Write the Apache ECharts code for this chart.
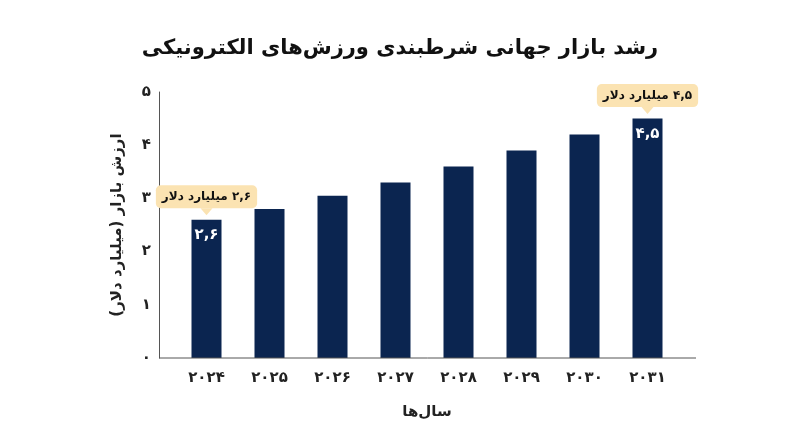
<!DOCTYPE html>
<html dir="rtl">
<head>
<meta charset="utf-8">
<script src="https://cdn.jsdelivr.net/npm/echarts@6/dist/echarts.min.js"></script>
<style>
  html, body { margin: 0; padding: 0; background: #ffffff; }
  #chart { width: 800px; height: 447px; }
</style>
</head>
<body>
<div id="chart"></div>
<script>
// data
var years = [2024, 2025, 2026, 2027, 2028, 2029, 2030, 2031];
var values = [2.6, 2.8, 3.05, 3.3, 3.6, 3.9, 4.2, 4.5];
var calloutIdx = [0, 7];
var yTicks = [0, 1, 2, 3, 4, 5];

var FONT = '"DejaVu Sans", sans-serif';
var NAVY = '#0b2550';
var PEACH = '#fbe3b2';
var RLM = '\u200F';

var toFa = function (v) {
  return String(v).replace('.', ',').replace(/[0-9]/g, function (d) {
    return '۰۱۲۳۴۵۶۷۸۹'.charAt(+d);
  });
};
// keep mixed persian text in right-to-left order on the canvas
var rtl = function (s) { return RLM + s + RLM; };

var gridLeft = 175, gridRight = 121, gridTop = 92, gridBottom = 89;
var yOffset = 16;

var barData = values.map(function (v, i) {
  var item = { value: v };
  if (calloutIdx.indexOf(i) >= 0) {
    item.label = {
      show: true,
      position: 'insideTop',
      distance: 8,
      color: '#ffffff',
      fontFamily: FONT,
      fontWeight: 'bold',
      fontSize: 15,
      formatter: function (p) { return toFa(p.value); }
    };
  }
  return item;
});

var markData = calloutIdx.map(function (i) {
  return { coord: [String(years[i]), values[i]], value: values[i] };
});

var chart = echarts.init(document.getElementById('chart'), null, { renderer: 'canvas' });
var option = {
  backgroundColor: '#ffffff',
  animation: false,
  title: {
    text: rtl('رشد بازار جهانی شرطبندی ورزش‌های الکترونیکی'),
    left: 'center',
    top: 33,
    textStyle: { fontFamily: FONT, fontWeight: 'bold', fontSize: 21, color: '#111111' }
  },
  grid: { left: gridLeft, right: gridRight, top: gridTop, bottom: gridBottom },
  xAxis: {
    type: 'category',
    data: years.map(String),
    axisLine: { show: false },
    axisTick: { show: false },
    axisLabel: {
      margin: 13,
      fontFamily: FONT, fontWeight: 'bold', fontSize: 15, color: '#222222',
      formatter: function (v) { return toFa(v); }
    },
    name: rtl('سال‌ها'),
    nameLocation: 'middle',
    nameGap: 47,
    nameTextStyle: { fontFamily: FONT, fontWeight: 'bold', fontSize: 15, color: '#222222' }
  },
  yAxis: {
    type: 'value',
    min: yTicks[0],
    max: yTicks[yTicks.length - 1],
    interval: 1,
    offset: yOffset,
    splitLine: { show: false },
    axisLine: { show: true, lineStyle: { color: '#555555', width: 1 } },
    axisTick: { show: false },
    axisLabel: {
      margin: 8,
      fontFamily: FONT, fontWeight: 'bold', fontSize: 15, color: '#222222',
      formatter: function (v) { return toFa(v); }
    },
    name: rtl('ارزش بازار (میلیارد دلار)'),
    nameLocation: 'middle',
    nameRotate: 90,
    nameGap: 34,
    nameTextStyle: { fontFamily: FONT, fontWeight: 'bold', fontSize: 15, color: '#222222' }
  },
  graphic: [{
    type: 'line',
    shape: { x1: gridLeft - yOffset, y1: 447 - gridBottom, x2: 800 - gridRight + 17, y2: 447 - gridBottom },
    style: { stroke: '#555555', lineWidth: 1 },
    z: 10
  }],
  series: [{
    type: 'bar',
    data: barData,
    barWidth: 30,
    itemStyle: { color: NAVY },
    markPoint: {
      symbol: 'path://M0,0 L10,0 L5,6 Z',
      symbolSize: [12, 7],
      symbolOffset: [0, -8],
      itemStyle: { color: PEACH },
      label: {
        show: true,
        position: 'top',
        distance: 0,
        backgroundColor: PEACH,
        borderRadius: 5,
        padding: [6, 6, 5, 6],
        color: '#111111',
        fontFamily: FONT,
        fontWeight: 'bold',
        fontSize: 12,
        formatter: function (p) { return rtl(toFa(p.value) + ' میلیارد دلار'); }
      },
      data: markData
    }
  }]
};
chart.setOption(option);
</script>
</body>
</html>
